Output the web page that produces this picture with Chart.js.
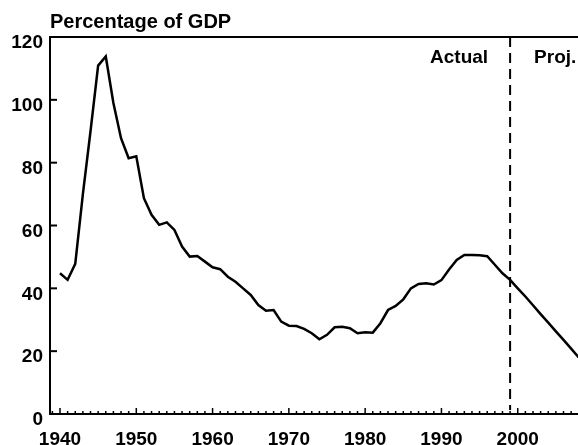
<!DOCTYPE html>
<html>
<head>
<meta charset="utf-8">
<script src="https://cdn.jsdelivr.net/npm/chart.js@4.4.1/dist/chart.umd.min.js"></script>
<style>
  html, body { margin: 0; padding: 0; background: #fff; }
  canvas { display: block; }
</style>
</head>
<body>
<canvas id="debtChart" width="578" height="445"></canvas>
<script>
// debt held by the public, percent of GDP
const years = [
  1940, 1941, 1942, 1943, 1944, 1945, 1946, 1947, 1948, 1949,
  1950, 1951, 1952, 1953, 1954, 1955, 1956, 1957, 1958, 1959,
  1960, 1961, 1962, 1963, 1964, 1965, 1966, 1967, 1968, 1969,
  1970, 1971, 1972, 1973, 1974, 1975, 1976, 1977, 1978, 1979,
  1980, 1981, 1982, 1983, 1984, 1985, 1986, 1987, 1988, 1989,
  1990, 1991, 1992, 1993, 1994, 1995, 1996, 1997, 1998, 1999,
  2000, 2001, 2002, 2003, 2004, 2005, 2006, 2007, 2008
];
const debtPct = [
  44.8, 42.7, 47.8, 70.0, 90.0, 110.9, 113.8, 99.0, 87.8, 81.4,
  82.0, 68.7, 63.4, 60.2, 61.0, 58.6, 53.3, 50.1, 50.3, 48.5,
  46.7, 46.1, 43.7, 42.1, 40.0, 37.9, 34.7, 32.9, 33.1, 29.4,
  28.1, 28.0, 27.1, 25.7, 23.8, 25.2, 27.6, 27.8, 27.3, 25.7,
  26.0, 25.9, 28.9, 33.1, 34.4, 36.5, 40.0, 41.4, 41.6, 41.2,
  42.6, 46.0, 49.0, 50.6, 50.6, 50.5, 50.2, 47.5, 44.8, 42.7,
  40.0, 37.4, 34.6, 31.8, 29.1, 26.3, 23.6, 20.8, 18.0
];
const xTickYears = [1940, 1950, 1960, 1970, 1980, 1990, 2000];
const yTicks = [0, 20, 40, 60, 80, 100, 120];
const lastActualYear = 1999;
const titleText = 'Percentage of GDP';
const leftNote = 'Actual';
const rightNote = 'Proj.';

const FONT = '"Liberation Sans", Arial, Helvetica, sans-serif';

// axis ticks pointing into the plot, top frame, divider and notes
const decorPlugin = {
  id: 'decor',
  afterDatasetsDraw(chart) {
    const { ctx, chartArea: a, scales: { x, y } } = chart;
    ctx.save();
    ctx.strokeStyle = '#000';
    ctx.fillStyle = '#000';

    // top frame
    ctx.lineWidth = 2;
    ctx.beginPath();
    ctx.moveTo(a.left, a.top);
    ctx.lineTo(a.right, a.top);
    ctx.stroke();

    // y ticks
    ctx.lineWidth = 2;
    yTicks.forEach(v => {
      const py = y.getPixelForValue(v);
      ctx.beginPath();
      ctx.moveTo(a.left, py);
      ctx.lineTo(a.left + 7, py);
      ctx.stroke();
    });

    // x ticks, one per year
    ctx.lineWidth = 1.5;
    for (let yr = Math.ceil(x.min); yr <= x.max; yr++) {
      const px = x.getPixelForValue(yr);
      const len = yr % 10 === 0 ? 6 : 3;
      ctx.beginPath();
      ctx.moveTo(px, a.bottom);
      ctx.lineTo(px, a.bottom - len);
      ctx.stroke();
    }

    // actual / projection divider
    const dx = x.getPixelForValue(lastActualYear);
    ctx.lineWidth = 2;
    ctx.setLineDash([10, 6]);
    ctx.beginPath();
    ctx.moveTo(dx, a.top);
    ctx.lineTo(dx, a.bottom - 4);
    ctx.stroke();
    ctx.setLineDash([]);

    ctx.font = 'bold 19px ' + FONT;
    ctx.textBaseline = 'alphabetic';
    ctx.textAlign = 'right';
    ctx.fillText(leftNote, dx - 22, 63);
    ctx.textAlign = 'left';
    ctx.fillText(rightNote, dx + 24, 63);

    // title over the axis
    ctx.font = 'bold 20px ' + FONT;
    ctx.textAlign = 'left';
    ctx.fillText(titleText, a.left, 28);
    ctx.restore();
  }
};

const ctxDebt = document.getElementById('debtChart').getContext('2d');
new Chart(ctxDebt, {
  type: 'line',
  data: {
    datasets: [{
      data: years.map((yr, i) => ({ x: yr, y: debtPct[i] })),
      borderColor: '#000',
      borderWidth: 2.5,
      pointRadius: 0,
      tension: 0,
      fill: false
    }]
  },
  options: {
    responsive: false,
    animation: false,
    devicePixelRatio: 1,
    layout: { padding: { top: 37, left: 0, right: 0, bottom: 0 } },
    plugins: {
      legend: { display: false },
      tooltip: { enabled: false }
    },
    scales: {
      x: {
        type: 'linear',
        min: 1938.69,
        max: 2007.9,
        afterFit(scale) { scale.height = 31; },
        afterBuildTicks(scale) { scale.ticks = xTickYears.map(v => ({ value: v })); },
        grid: { display: false, drawTicks: false },
        border: { display: true, color: '#000', width: 2 },
        ticks: {
          color: '#000',
          padding: 14,
          maxRotation: 0,
          autoSkip: false,
          font: { family: FONT, size: 19, weight: 'bold' },
          callback: v => String(v)
        }
      },
      y: {
        min: 0,
        max: 120,
        afterFit(scale) { scale.width = 50; },
        afterBuildTicks(scale) { scale.ticks = yTicks.map(v => ({ value: v })); },
        grid: { display: false, drawTicks: false },
        border: { display: true, color: '#000', width: 2 },
        ticks: {
          color: '#000',
          padding: 7,
          labelOffset: 6,
          font: { family: FONT, size: 19, weight: 'bold' }
        }
      }
    }
  },
  plugins: [decorPlugin]
});
</script>
</body>
</html>
